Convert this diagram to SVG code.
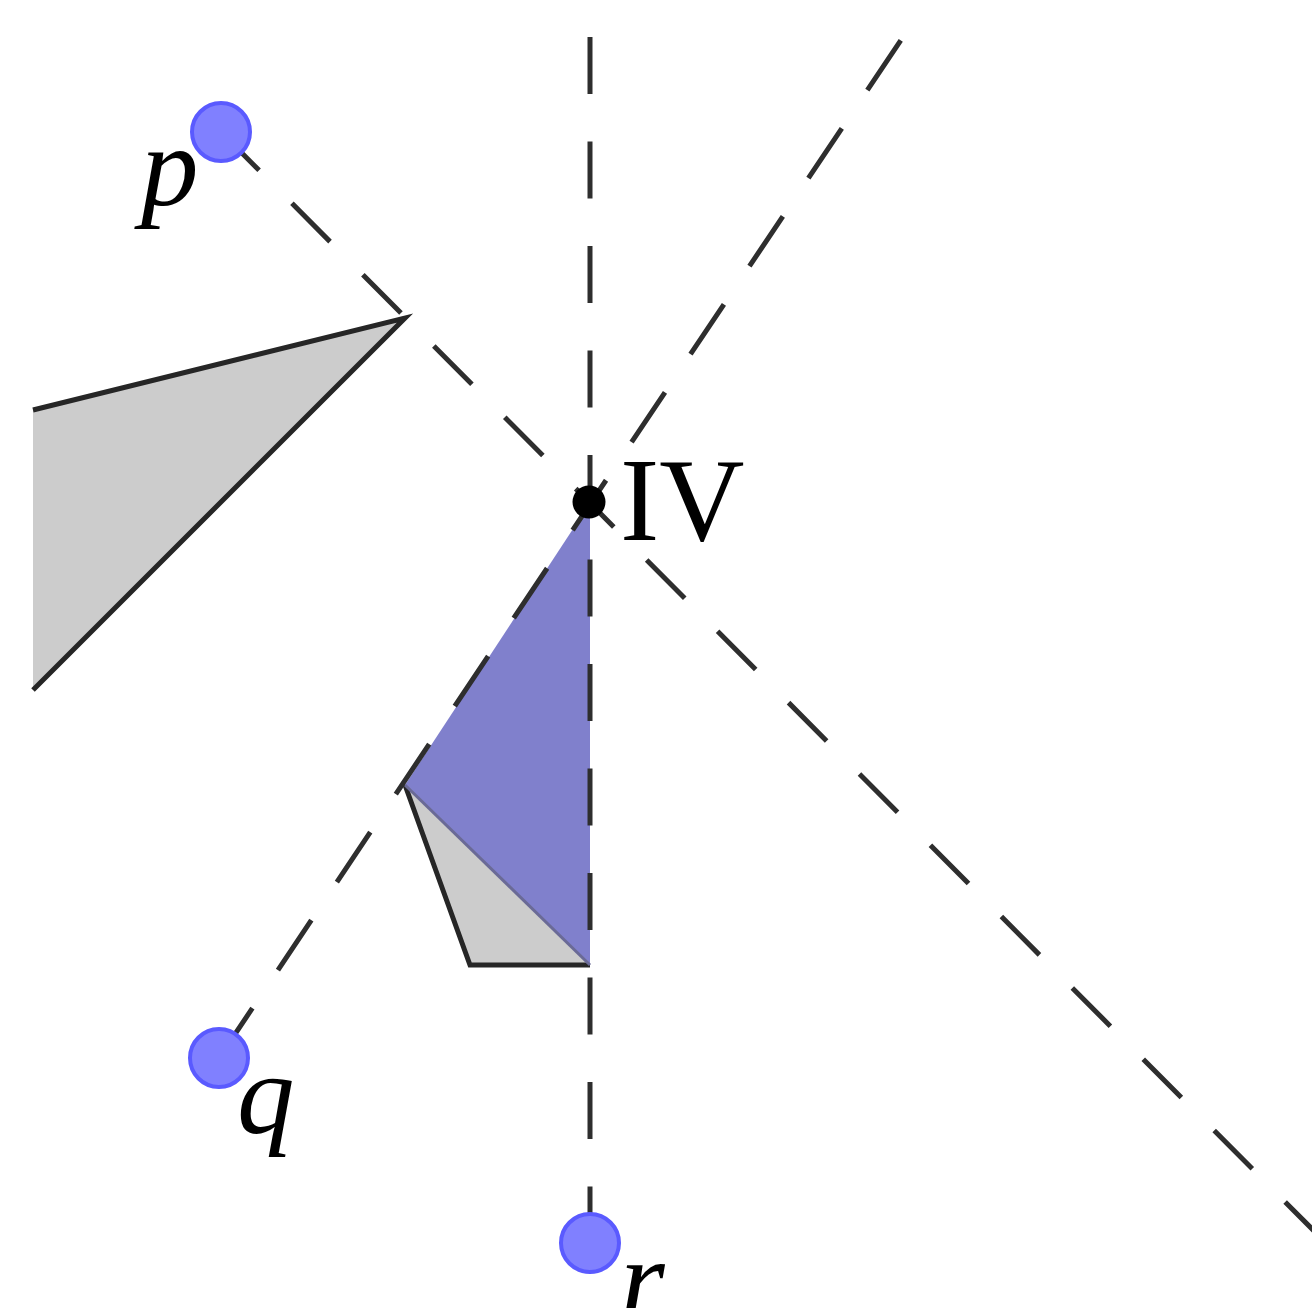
<svg xmlns="http://www.w3.org/2000/svg" width="1312" height="1308" viewBox="0 0 1312 1308">
  <style>
    .dash { fill: none; stroke: #2e2e2e; stroke-width: 5; }
    .edge { fill: none; stroke: #262626; stroke-width: 5; stroke-linejoin: miter; }
    .gray { fill: #cccccc; stroke: none; }
    .blue { fill: #8080cc; stroke: none; }
    .pt { fill: #8080ff; stroke: #5a5aff; stroke-width: 4; }
    .lbl { font-family: "Liberation Serif", "Times New Roman", serif; fill: #000; }
    .it { font-style: italic; font-size: 115px; }
  </style>
  <rect width="1312" height="1308" fill="#ffffff"/>

  <g id="gray-triangle">
    <polygon class="gray" points="33,410 405,318 33,690"/>
    <polyline class="edge" points="33,410 405,318 33,690"/>
  </g>

  <g id="gray-quad">
    <polygon class="gray" points="405,785 470,965 590,965"/>
    <polyline class="edge" points="405,785 470,965 590,965"/>
  </g>

  <g id="blue-triangle">
    <polygon class="blue" points="590,503 405,785 590,965"/>
    <line x1="405" y1="785" x2="590" y2="965" stroke="#6a6a96" stroke-width="3"/>
  </g>

  <g id="connectors">
    <line class="dash" x1="590" y1="37" x2="590" y2="1243" stroke-dasharray="57 47.5"/>
    <line class="dash" x1="221" y1="132" x2="1330" y2="1247" stroke-dasharray="54 46.6"/>
    <line class="dash" x1="219" y1="1058" x2="903" y2="37" stroke-dasharray="60 45.9"/>
  </g>

  <g id="point-IV">
    <circle cx="589" cy="502" r="16.5" fill="#000"/>
    <text class="lbl" x="620" y="540" font-size="118">IV</text>
  </g>

  <g id="point-p">
    <circle class="pt" cx="221" cy="132" r="29"/>
    <text class="lbl it" x="141" y="205">p</text>
  </g>

  <g id="point-q">
    <circle class="pt" cx="219" cy="1058" r="29"/>
    <text class="lbl it" x="237" y="1133">q</text>
  </g>

  <g id="point-r">
    <circle class="pt" cx="590" cy="1243" r="29"/>
    <text class="lbl it" x="620" y="1318">r</text>
  </g>
</svg>
